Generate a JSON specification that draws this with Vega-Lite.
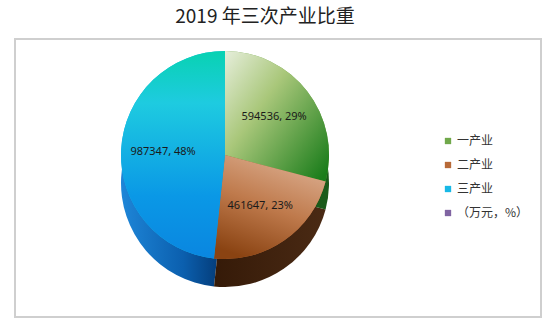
{
  "$schema": "https://vega.github.io/schema/vega-lite/v6.json",
  "width": 526,
  "height": 278,
  "autosize": {"type": "none"},
  "padding": {"left": 15, "top": 39, "right": 10, "bottom": 9},
  "background": "white",
  "view": {"stroke": "#cfcfcf", "strokeWidth": 2, "fill": "white"},
  "config": {"view": {"stroke": "#cfcfcf", "strokeWidth": 2}},
  "title": {"text": "2019 年三次产业比重", "font": "Noto Sans CJK SC", "fontSize": 19, "fontWeight": "normal", "color": "#222222", "anchor": "middle", "offset": 12, "dx": -13},
  "data": {"values": [
    {"industry": "一产业", "value": 594536, "pct": 29, "idx": 1},
    {"industry": "二产业", "value": 461647, "pct": 23, "idx": 2},
    {"industry": "三产业", "value": 987347, "pct": 48, "idx": 3}
  ]},
  "transform": [
    {"stack": "value", "groupby": [], "sort": [{"field": "idx", "order": "ascending"}], "as": ["v0", "v1"]},
    {"calculate": "(datum.v0 + datum.v1) / 2", "as": "vm"},
    {"calculate": "datum.value + ', ' + datum.pct + '%'", "as": "label"}
  ],
  "layer": [
    {
      "transform": [{"filter": "datum.industry == '三产业'"}],
      "mark": {"type": "arc", "radius": 104, "xOffset": -53, "yOffset": 5,
        "fill": {"gradient": "linear", "x1": 0, "y1": 0, "x2": 1, "y2": 0, "stops": [{"offset": 0, "color": "#1e86d8"}, {"offset": 0.6, "color": "#0b5fae"}, {"offset": 1, "color": "#033670"}]}},
      "encoding": {"theta": {"field": "v1", "type": "quantitative", "stack": null}, "theta2": {"field": "v0"}}
    },
    {
      "transform": [{"filter": "datum.industry == '二产业'"}],
      "mark": {"type": "arc", "radius": 104, "xOffset": -53, "yOffset": 5,
        "fill": {"gradient": "linear", "x1": 0, "y1": 0, "x2": 1, "y2": 0, "stops": [{"offset": 0, "color": "#351a08"}, {"offset": 1, "color": "#4a2a14"}]}},
      "encoding": {"theta": {"field": "v1", "type": "quantitative", "stack": null}, "theta2": {"field": "v0"}}
    },
    {
      "transform": [{"filter": "datum.industry == '一产业'"}],
      "mark": {"type": "arc", "radius": 104, "xOffset": -53, "yOffset": 5, "fill": "#1a5a1a"},
      "encoding": {"theta": {"field": "v1", "type": "quantitative", "stack": null}, "theta2": {"field": "v0"}}
    },
    {
      "mark": {"type": "arc", "radius": 104, "xOffset": -53, "yOffset": -23},
      "encoding": {
        "theta": {"field": "v1", "type": "quantitative", "stack": null},
        "theta2": {"field": "v0"},
        "color": {"field": "industry", "type": "nominal",
          "scale": {"domain": ["一产业", "二产业", "三产业", "（万元，%）"], "range": ["#70a84a", "#b86a38", "#18b8e6", "#8064a2"]},
          "legend": {"title": null, "orient": "none", "legendX": 427, "legendY": 96, "symbolType": "square", "symbolSize": 40, "symbolStrokeWidth": 0,
            "labelFont": "Noto Sans CJK SC", "labelFontSize": 12, "labelColor": "#333333", "rowPadding": 12, "labelOffset": 3, "padding": 0}}
      }
    },
    {
      "transform": [{"filter": "datum.industry == '一产业'"}],
      "mark": {"type": "arc", "radius": 104, "xOffset": -53, "yOffset": -23,
        "fill": {"gradient": "linear", "x1": 0, "y1": 0, "x2": 1, "y2": 0.9, "stops": [{"offset": 0, "color": "#e6eedb"}, {"offset": 0.4, "color": "#a9c77a"}, {"offset": 1, "color": "#1b7d1b"}]}},
      "encoding": {"theta": {"field": "v1", "type": "quantitative", "stack": null}, "theta2": {"field": "v0"}}
    },
    {
      "transform": [{"filter": "datum.industry == '二产业'"}],
      "mark": {"type": "arc", "radius": 104, "xOffset": -53, "yOffset": -23,
        "fill": {"gradient": "linear", "x1": 0.7, "y1": 0, "x2": 0.3, "y2": 1, "stops": [{"offset": 0, "color": "#dcae90"}, {"offset": 0.5, "color": "#bf7a4c"}, {"offset": 1, "color": "#8a4312"}]}},
      "encoding": {"theta": {"field": "v1", "type": "quantitative", "stack": null}, "theta2": {"field": "v0"}}
    },
    {
      "transform": [{"filter": "datum.industry == '三产业'"}],
      "mark": {"type": "arc", "radius": 104, "xOffset": -53, "yOffset": -23,
        "fill": {"gradient": "linear", "x1": 0.5, "y1": 0, "x2": 0.5, "y2": 1, "stops": [{"offset": 0, "color": "#08d2b2"}, {"offset": 0.25, "color": "#1ecbe0"}, {"offset": 0.7, "color": "#0a98e6"}, {"offset": 1, "color": "#0a86e0"}]}},
      "encoding": {"theta": {"field": "v1", "type": "quantitative", "stack": null}, "theta2": {"field": "v0"}}
    },
    {
      "mark": {"type": "text", "radius": 62, "xOffset": -53, "yOffset": -23, "font": "Noto Sans", "fontSize": 11, "color": "#1a1a1a"},
      "encoding": {"theta": {"field": "vm", "type": "quantitative", "stack": null}, "text": {"field": "label"}}
    }
  ]
}
